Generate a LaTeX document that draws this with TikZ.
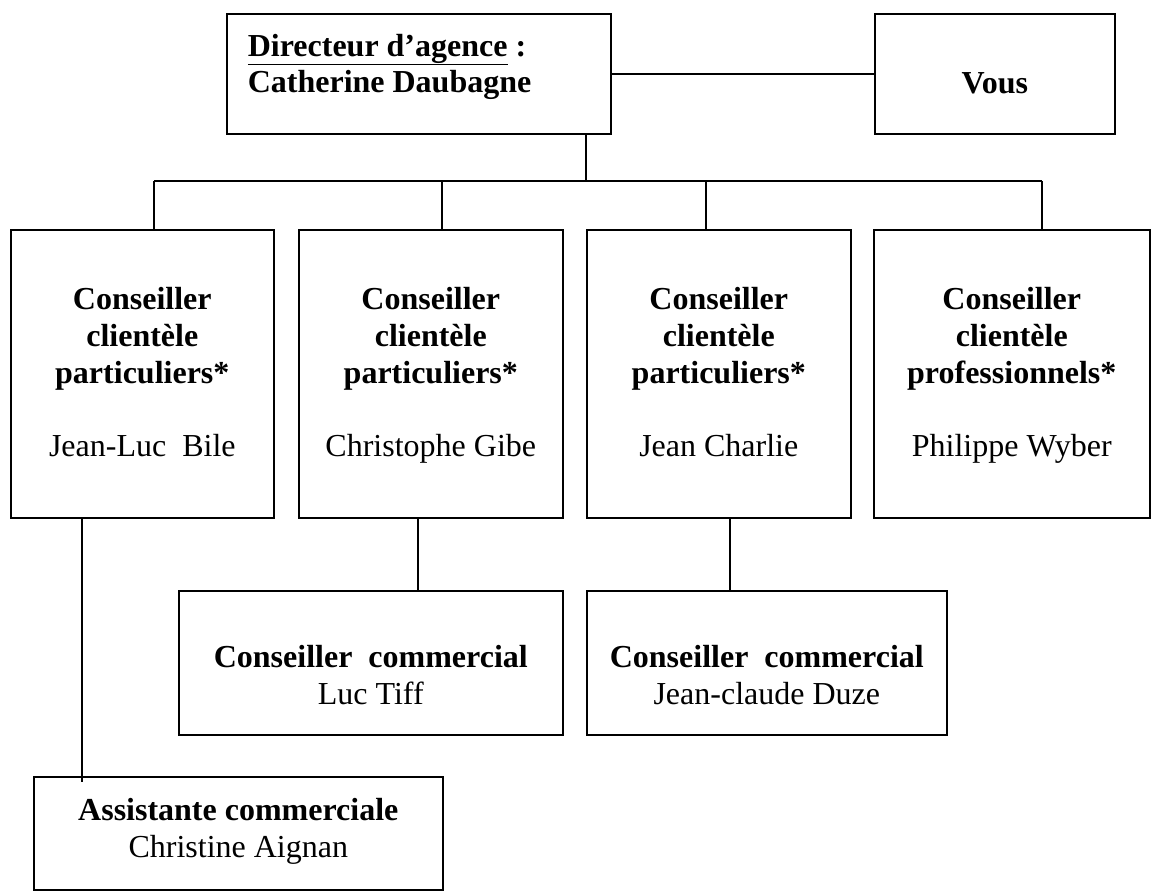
\documentclass[tikz,border=0pt]{standalone}
\usepackage{fontspec}
\setmainfont{Liberation Serif}

\begin{document}
\begin{tikzpicture}[x=1pt,y=-1pt,line width=1.6pt,
  orgbox/.style={rectangle,draw=black,line width=1.6pt,inner sep=0pt,anchor=north west,
    align=center,font=\fontsize{32}{36.8}\selectfont},
  orgtext/.style={inner sep=0pt,font=\fontsize{32}{36.8}\selectfont\bfseries}]
  \useasboundingbox (0,0) rectangle (1152,891);

  \path
  (226,13) node[orgbox,minimum width=384pt,minimum height=120pt] (dir) {}
  (874,13) node[orgbox,minimum width=240pt,minimum height=120pt] (vous) {}

  (10,229) node[orgbox,minimum width=263pt,minimum height=288pt] (jlb)
    {\rule{0pt}{30pt}\textbf{Conseiller}\\\textbf{clientèle}\\\textbf{particuliers*}\\[36.8pt]Jean-Luc\ \ Bile\strut}
  (298,229) node[orgbox,minimum width=264pt,minimum height=288pt] (cg)
    {\rule{0pt}{30pt}\textbf{Conseiller}\\\textbf{clientèle}\\\textbf{particuliers*}\\[36.8pt]Christophe Gibe\strut}
  (586,229) node[orgbox,minimum width=264pt,minimum height=288pt] (jc)
    {\rule{0pt}{30pt}\textbf{Conseiller}\\\textbf{clientèle}\\\textbf{particuliers*}\\[36.8pt]Jean Charlie\strut}
  (873,229) node[orgbox,minimum width=276pt,minimum height=288pt] (pw)
    {\rule{0pt}{30pt}\textbf{Conseiller}\\\textbf{clientèle}\\\textbf{professionnels*}\\[36.8pt]Philippe Wyber\strut}

  (178,590) node[orgbox,minimum width=384pt,minimum height=144pt] (lt)
    {\rule{0pt}{58pt}\textbf{Conseiller\ \ commercial}\\Luc Tiff\strut}
  (586,590) node[orgbox,minimum width=360pt,minimum height=144pt] (jcd)
    {\rule{0pt}{58pt}\textbf{Conseiller\ \ commercial}\\Jean-claude Duze\strut}
  (33,776) node[orgbox,minimum width=409pt,minimum height=113pt] (asst)
    {\textbf{Assistante commerciale}\\Christine Aignan\strut};

  % texts of the top boxes
  \node[orgtext,align=left,anchor=north west] (dirtxt) at (247,33)
    {\underline{Directeur d’agence} :\\Catherine Daubagne};
  \node[orgtext] (voustxt) at ([yshift=-9pt]vous.center) {Vous};

  % bus under the director
  \coordinate (d1) at (154,181);
  \coordinate (d2) at (442,181);
  \coordinate (d3) at (706,181);
  \coordinate (d4) at (1042,181);
  \coordinate (a1) at (82,517);
  \coordinate (a2) at (418,517);
  \coordinate (a3) at (730,517);

  \draw (dir.east) -- (vous.west);
  \draw (dir.south -| jc.west) -- (d1 -| jc.west);
  \draw (d1) -- (d4);
  \draw (d1) -- (d1 |- jlb.north);
  \draw (d2) -- (d2 |- cg.north);
  \draw (d3) -- (d3 |- jc.north);
  \draw (d4) -- (d4 |- pw.north);

  \draw (a1) -- ++(0,265);
  \draw (a2) -- (a2 |- lt.north);
  \draw (a3) -- (a3 |- jcd.north);
\end{tikzpicture}
\end{document}
